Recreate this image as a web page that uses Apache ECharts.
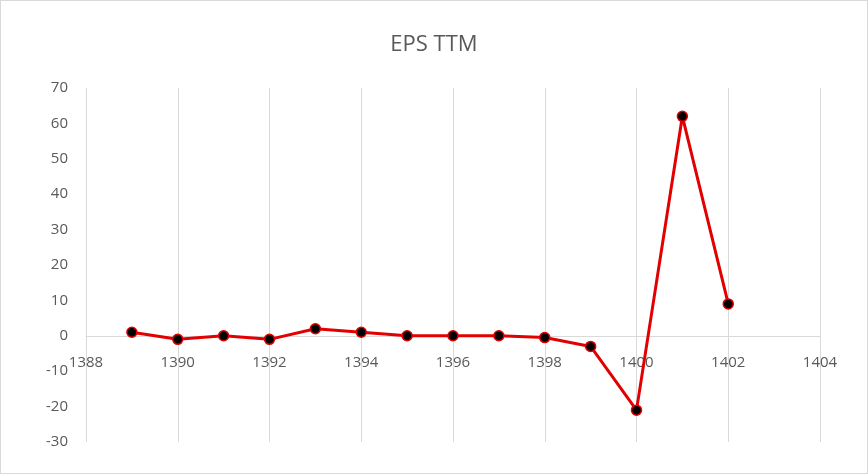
<!DOCTYPE html>
<html>
<head>
<meta charset="utf-8">
<script src="https://cdn.jsdelivr.net/npm/echarts@6/dist/echarts.min.js"></script>
<style>
html,body{margin:0;padding:0;background:#fff;}
#main{width:866px;height:472px;border:1px solid #d9d9d9;}
</style>
</head>
<body>
<div id="main"></div>
<script>
var years = [1389, 1390, 1391, 1392, 1393, 1394, 1395, 1396, 1397, 1398, 1399, 1400, 1401, 1402];
var epsTtm = [1, -1, 0, -1, 2, 1, 0, 0, 0, -0.5, -3, -21, 62, 9];

var chart = echarts.init(document.getElementById('main'));
var points = years.map(function (y, i) { return [y, epsTtm[i]]; });

chart.setOption({
    title: {
        text: 'EPS TTM',
        left: 'center',
        top: 28,
        textStyle: { fontFamily: 'Open Sans', fontSize: 22, fontWeight: 'normal', color: '#595959' }
    },
    grid: { left: 85, right: 47, top: 87, bottom: 31 },
    xAxis: {
        type: 'value',
        min: 1388,
        max: 1404,
        interval: 2,
        axisLine: { onZero: true, lineStyle: { color: '#d9d9d9' } },
        axisTick: { show: false },
        axisLabel: {
            color: '#595959', fontSize: 15, fontFamily: 'Open Sans', margin: -87,
            formatter: function (v) { return String(v); }
        },
        splitLine: { show: true, lineStyle: { color: '#d9d9d9' } }
    },
    yAxis: {
        type: 'value',
        min: -30,
        max: 70,
        interval: 10,
        axisLine: { show: false },
        axisTick: { show: false },
        axisLabel: { color: '#595959', fontSize: 15, fontFamily: 'Open Sans', margin: 18 },
        splitLine: { show: false }
    },
    series: [{
        type: 'line',
        data: points,
        symbol: 'circle',
        symbolSize: 10,
        lineStyle: { color: '#e30000', width: 3 },
        itemStyle: { color: '#000', borderColor: '#e30000', borderWidth: 1.5 },
        z: 3
    }]
});
</script>
</body>
</html>
